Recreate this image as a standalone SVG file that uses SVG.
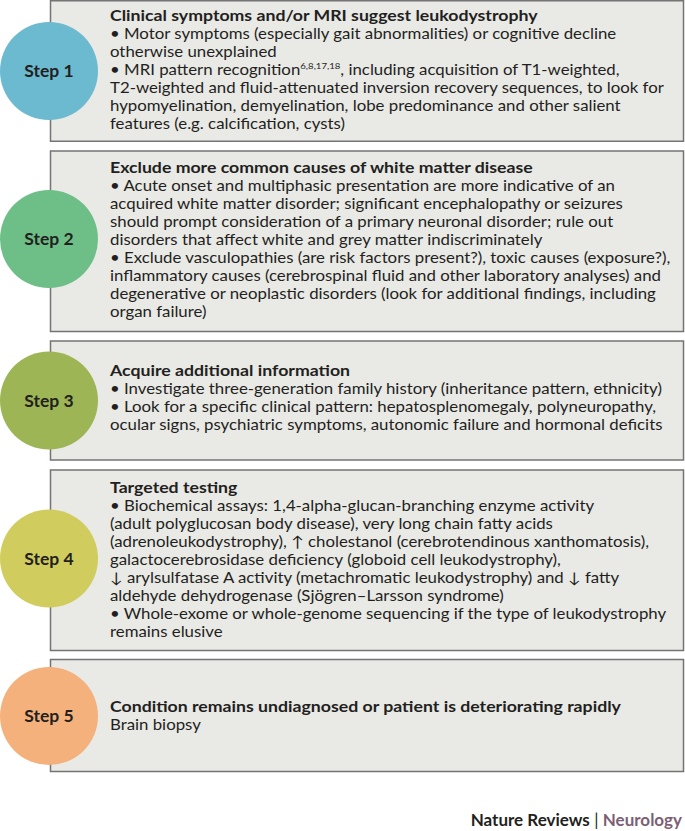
<svg xmlns="http://www.w3.org/2000/svg" width="685" height="831" viewBox="0 0 685 831">
<style>
.box{fill:#e9e9e6;stroke:#747474;stroke-width:1.5}
.t{font-family:Lato,"Noto Sans","Liberation Sans",sans-serif;font-size:14.8px;fill:#231f20}
.b{font-family:Lato,"Noto Sans","Liberation Sans",sans-serif;font-weight:bold;font-size:15px;fill:#231f20}
.step{font-family:Lato,"Noto Sans","Liberation Sans",sans-serif;font-size:17.5px;font-weight:bold;fill:#231f20;text-anchor:middle}
.sup{font-size:8.5px}
.foot{font-family:Lato,"Noto Sans","Liberation Sans",sans-serif;font-size:17px;text-anchor:end}
</style>
<rect width="685" height="831" fill="#ffffff"/>
<g id="connectors"/>
<g id="step1">
<rect class="box" x="50.5" y="0.75" width="633" height="140.5"/>
<circle cx="49" cy="71" r="49" fill="#6cbad0"/>
<text class="step" x="49" y="77">Step 1</text>
<text class="b" x="110" y="21" transform="matrix(1.18 0 0 1 -19.8 0)">Clinical symptoms and/or MRI suggest leukodystrophy</text>
<text class="t" transform="matrix(1.135 0 0 1 -14.85 0)">
<tspan x="110" y="39">• Motor symptoms (especially gait abnormalities) or cognitive decline</tspan>
<tspan x="110" y="57">otherwise unexplained</tspan>
<tspan x="110" y="75">• MRI pattern recognition<tspan class="sup" dy="-5.5">6,8,17,18</tspan><tspan dy="5.5">, including acquisition of T1-weighted,</tspan></tspan>
<tspan x="110" y="93">T2-weighted and fluid-attenuated inversion recovery sequences, to look for</tspan>
<tspan x="110" y="111">hypomyelination, demyelination, lobe predominance and other salient</tspan>
<tspan x="110" y="129">features (e.g. calcification, cysts)</tspan>
</text>
</g>
<g id="step2">
<rect class="box" x="50.5" y="151" width="633" height="180.5"/>
<circle cx="49" cy="239" r="49" fill="#6dbf87"/>
<text class="step" x="49" y="245">Step 2</text>
<text class="b" x="110" y="173" transform="matrix(1.18 0 0 1 -19.8 0)">Exclude more common causes of white matter disease</text>
<text class="t" transform="matrix(1.135 0 0 1 -14.85 0)">
<tspan x="110" y="191">• Acute onset and multiphasic presentation are more indicative of an</tspan>
<tspan x="110" y="209">acquired white matter disorder; significant encephalopathy or seizures</tspan>
<tspan x="110" y="227">should prompt consideration of a primary neuronal disorder; rule out</tspan>
<tspan x="110" y="245">disorders that affect white and grey matter indiscriminately</tspan>
<tspan x="110" y="263">• Exclude vasculopathies (are risk factors present?), toxic causes (exposure?),</tspan>
<tspan x="110" y="281">inflammatory causes (cerebrospinal fluid and other laboratory analyses) and</tspan>
<tspan x="110" y="299">degenerative or neoplastic disorders (look for additional findings, including</tspan>
<tspan x="110" y="317">organ failure)</tspan>
</text>
</g>
<g id="step3">
<rect class="box" x="50.5" y="341" width="633" height="119"/>
<circle cx="49" cy="400.5" r="49" fill="#9db555"/>
<text class="step" x="49" y="406.5">Step 3</text>
<text class="b" x="110" y="376" transform="matrix(1.18 0 0 1 -19.8 0)">Acquire additional information</text>
<text class="t" transform="matrix(1.135 0 0 1 -14.85 0)">
<tspan x="110" y="394">• Investigate three-generation family history (inheritance pattern, ethnicity)</tspan>
<tspan x="110" y="412">• Look for a specific clinical pattern: hepatosplenomegaly, polyneuropathy,</tspan>
<tspan x="110" y="430">ocular signs, psychiatric symptoms, autonomic failure and hormonal deficits</tspan>
</text>
</g>
<g id="step4">
<rect class="box" x="50.5" y="470" width="633" height="180.5"/>
<circle cx="49" cy="558.5" r="49" fill="#d0cd5e"/>
<text class="step" x="49" y="564.5">Step 4</text>
<text class="b" x="110" y="493" transform="matrix(1.18 0 0 1 -19.8 0)">Targeted testing</text>
<text class="t" transform="matrix(1.135 0 0 1 -14.85 0)">
<tspan x="110" y="511">• Biochemical assays: 1,4-alpha-glucan-branching enzyme activity</tspan>
<tspan x="110" y="529">(adult polyglucosan body disease), very long chain fatty acids</tspan>
<tspan x="110" y="547">(adrenoleukodystrophy), ↑ cholestanol (cerebrotendinous xanthomatosis),</tspan>
<tspan x="110" y="565">galactocerebrosidase deficiency (globoid cell leukodystrophy),</tspan>
<tspan x="110" y="583">↓ arylsulfatase A activity (metachromatic leukodystrophy) and ↓ fatty</tspan>
<tspan x="110" y="601">aldehyde dehydrogenase (Sjögren–Larsson syndrome)</tspan>
<tspan x="110" y="619">• Whole-exome or whole-genome sequencing if the type of leukodystrophy</tspan>
<tspan x="110" y="637">remains elusive</tspan>
</text>
</g>
<g id="step5">
<rect class="box" x="50.5" y="659.5" width="633" height="112"/>
<circle cx="49" cy="716" r="49" fill="#f4b17b"/>
<text class="step" x="49" y="722">Step 5</text>
<text class="b" x="110" y="712" transform="matrix(1.18 0 0 1 -19.8 0)">Condition remains undiagnosed or patient is deteriorating rapidly</text>
<text class="t" transform="matrix(1.135 0 0 1 -14.85 0)"><tspan x="110" y="730">Brain biopsy</tspan></text>
</g>
<g id="footer">
<text class="foot" x="682" y="826"><tspan font-weight="bold" fill="#231f20">Nature Reviews</tspan><tspan fill="#231f20"> | </tspan><tspan font-weight="bold" fill="#7d5f75">Neurology</tspan></text>
</g>
</svg>
